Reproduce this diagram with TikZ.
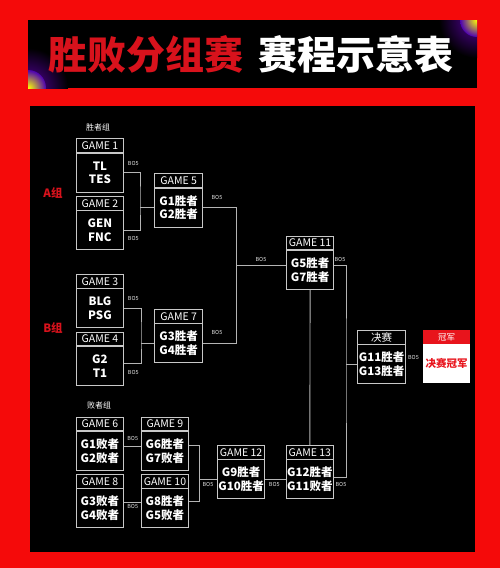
\documentclass[tikz,border=0pt]{standalone}
\usepackage{fontspec}
\setmainfont{Noto Sans CJK SC}
\definecolor{bgred}{HTML}{F50A0A}
\definecolor{titred}{HTML}{D8121C}
\definecolor{boxc}{HTML}{C8C8C8}
\definecolor{linec}{HTML}{B4B4B4}
\definecolor{champred}{HTML}{E8141C}
\tikzset{
  hdr/.style={draw=boxc, line width=0.9pt, minimum height=13.5pt, inner sep=0pt, text=white,
    font=\fontsize{10.5}{11}\selectfont},
  bdy/.style={draw=boxc, line width=0.9pt, minimum height=39pt, inner sep=0pt, text=white, align=center,
    font=\fontsize{11.5}{13.5}\selectfont\bfseries},
  conn/.style={draw=linec, line width=0.9pt},
  bo/.style={text=white!80!gray, inner sep=0pt, font=\fontsize{5.5}{6}\selectfont},
  grp/.style={text=white, inner sep=0pt, font=\fontsize{8}{9}\selectfont},
  grplab/.style={text=titred, inner sep=0pt, font=\fontsize{11.5}{12}\selectfont\bfseries},
}
\newcommand\gbox[6]{%
  \node[hdr, minimum width=#4, anchor=north west] (#1h) at (#2,#3) {#5};
  \node[bdy, minimum width=#4, anchor=north] (#1) at (#1h.south) {#6};
}
\begin{document}
\begin{tikzpicture}[x=1pt,y=-1pt]
\useasboundingbox (0,0) rectangle (500,568);
\fill[bgred] (0,0) rectangle (500,568);
% title banner
\fill[black] (28,20) rectangle (477,88);
\begin{scope}
  \clip (28,20) rectangle (477,88);
  \shade[inner color=violet!70!blue, outer color=black] (28,88) circle (40);
  \shade[inner color=yellow, outer color=violet!60!blue] (28,88) circle (18);
  \shade[inner color=violet!70!blue, outer color=black] (477,20) circle (38);
  \shade[inner color=yellow, outer color=violet!60!blue] (477,20) circle (17);
\end{scope}
\node[text=titred, font=\fontsize{39}{40}\selectfont\bfseries, inner sep=0pt] (t1) at (146,54) {胜败分组赛};
\node[text=white, font=\fontsize{39}{40}\selectfont\bfseries, inner sep=0pt] (t2) at (356,54) {赛程示意表};
% main panel
\fill[black] (30,106) rectangle (475,552);
% group labels
\node[grp] (wg) at (98,127) {胜者组};
\node[grp] (lg) at (99,405) {败者组};
\node[grplab] (ga) at (53,193) {A组};
\node[grplab] (gb) at (53,328) {B组};
% boxes
\gbox{g1}{75.7}{138.3}{47.6pt}{GAME 1}{TL\\TES}
\gbox{g2}{75.7}{196}{47.6pt}{GAME 2}{GEN\\FNC}
\gbox{g3}{75.7}{274}{47.6pt}{GAME 3}{BLG\\PSG}
\gbox{g4}{75.7}{331.7}{47.6pt}{GAME 4}{G2\\T1}
\gbox{g5}{154.3}{173.3}{47.8pt}{GAME 5}{G1胜者\\G2胜者}
\gbox{g7}{154.3}{309}{47.8pt}{GAME 7}{G3胜者\\G4胜者}
\gbox{g11}{286}{235.7}{47.3pt}{GAME 11}{G5胜者\\G7胜者}
\gbox{fin}{357.3}{330}{47.7pt}{决赛}{G11胜者\\G13胜者}
\gbox{g6}{75.7}{416.7}{47.6pt}{GAME 6}{G1败者\\G2败者}
\gbox{g9}{140.7}{416.7}{47.6pt}{GAME 9}{G6胜者\\G7败者}
\gbox{g8}{75.7}{474}{47.6pt}{GAME 8}{G3败者\\G4败者}
\gbox{g10}{140.7}{474}{47.6pt}{GAME 10}{G8胜者\\G5败者}
\gbox{g12}{217.3}{445}{46.7pt}{GAME 12}{G9胜者\\G10胜者}
\gbox{g13}{285.5}{445}{47.8pt}{GAME 13}{G12胜者\\G11败者}
% champion box
\node[fill=champred, minimum width=47.3pt, minimum height=13.5pt, inner sep=0pt, anchor=north west,
  text=white, font=\fontsize{8.5}{9}\selectfont] (champh) at (422.7,330) {冠军};
\node[fill=white, minimum width=47.3pt, minimum height=39pt, inner sep=0pt, anchor=north,
  text=champred, font=\fontsize{10.5}{11}\selectfont\bfseries] (champ) at (champh.south) {决赛冠军};
% connectors
\coordinate (b1) at (140,200);
\coordinate (b2) at (141,335);
\coordinate (b3) at (236.7,270);
\coordinate (b4) at (346,370);
\coordinate (b5) at (199.3,470);
\draw[conn] (g1.east) -| (b1) |- (g2.east);
\draw[conn] (b1 |- g5.west) -- (g5.west);
\draw[conn] (g3.east) -| (b2) |- ([yshift=3]g4.east);
\draw[conn] (b2 |- g7.west) -- (g7.west);
\draw[conn] (g5.east) -| (b3) |- (g7.east);
\draw[conn] ([yshift=4.2]g11.west) -- ([yshift=4.2]g11.west -| b3);
\draw[conn] ([yshift=4.2]g11.east) -| (b4) |- ([yshift=1.5]g13.east);
\draw[conn] (b4 |- fin.west) -- (fin.west);
\draw[conn] (g11.south) -- (g13h.north);
\draw[conn] ([yshift=5]g6.east) -- ([yshift=5]g9.west);
\draw[conn] ([yshift=6]g8.east) -- ([yshift=6]g10.west);
\draw[conn] ([yshift=6]g9.east) -| (b5) |- ([yshift=7]g10.east);
\draw[conn] (b5 |- g12.west) -- (g12.west);
\draw[conn] (g12.east) -- (g13.west);
% BO5 labels
\node[bo] (bo1) at (133.3,163) {BO5};
\node[bo] (bo2) at (133.3,238) {BO5};
\node[bo] (bo3) at (217,197) {BO5};
\node[bo] (bo4) at (133.3,298) {BO5};
\node[bo] (bo5) at (133.3,372) {BO5};
\node[bo] (bo6) at (217,332) {BO5};
\node[bo] (bo7) at (261,259) {BO5};
\node[bo] (bo8) at (340,259) {BO5};
\node[bo] (bo9) at (413.5,357.7) {BO5};
\node[bo] (bo10) at (132.7,438.3) {BO5};
\node[bo] (bo11) at (132.7,506) {BO5};
\node[bo] (bo12) at (208,484) {BO5};
\node[bo] (bo13) at (274.3,484) {BO5};
\node[bo] (bo14) at (341,484) {BO5};
\end{tikzpicture}
\end{document}
